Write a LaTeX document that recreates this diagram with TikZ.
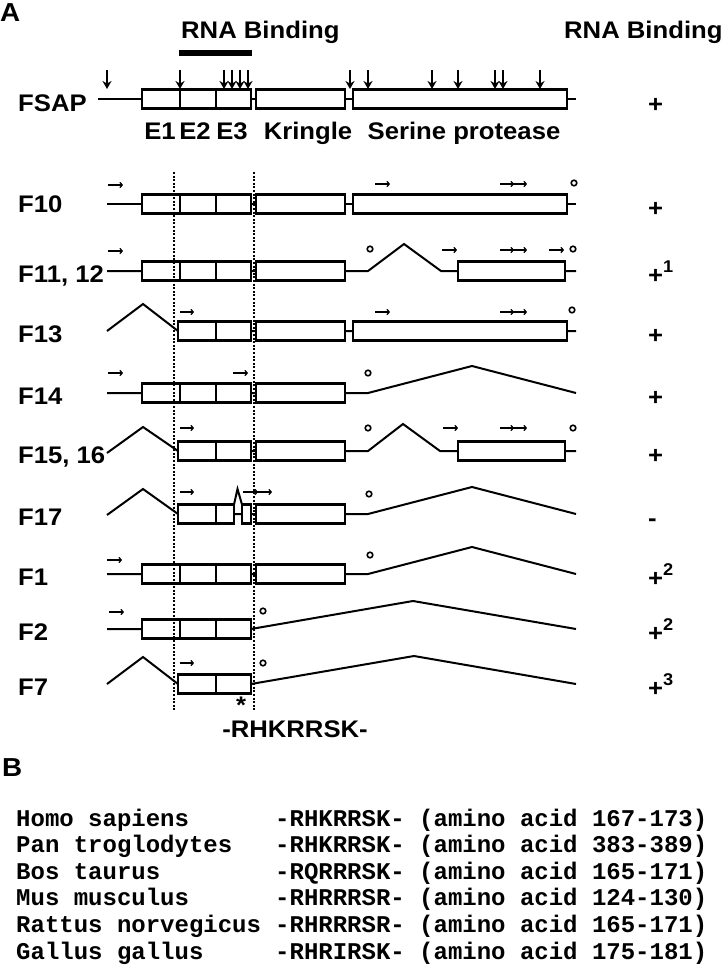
\documentclass[tikz,border=0pt]{standalone}
\usepackage{fontspec}
\newfontfamily\figsans{Liberation Sans}[FakeStretch=1.07]
\newfontfamily\figmono{Liberation Mono}
\usetikzlibrary{arrows.meta}
\tikzset{
  lbl/.style={font=\figsans\bfseries\fontsize{24}{28}\selectfont, inner sep=0pt},
  seq/.style={font=\figmono\bfseries\fontsize{24}{28}\selectfont, inner sep=0pt, anchor=base west},
  exon/.style={draw, line width=2.3pt, fill=white},
  intron/.style={line width=2pt, line join=miter},
  darr/.style={-{Stealth[length=8pt,width=9pt]}, line width=1.8pt},
  sarr/.style={-{To[length=3.5pt,width=6pt]}, line width=1.1pt},
  site/.style={line width=1.6pt},
  dotline/.style={line width=2.6pt, dash pattern=on 2pt off 1.6pt}
}
\begin{document}
\begin{tikzpicture}[x=1pt,y=-1pt,>=stealth]
\useasboundingbox (0,0) rectangle (723,966);
% panel A
\node[lbl, anchor=base west] (pA) at (0,22) {\fontsize{26}{26}\selectfont A};
\node[lbl, anchor=base west] (hdrL) at (181,39) {RNA Binding};
\node[lbl, anchor=base west] (hdrR) at (564,39) {RNA Binding};
\draw [line width=6.5pt] (179,53)--(252,53);
% FSAP
\draw [intron] (98,99)--(576,99);
\foreach \a/\b in {142/180,180/216,216/251,256/345,353/567}{\draw [exon] (\a,89.5) rectangle (\b,108.5);}
\foreach \x in {107,180,224,232,240,248,350,368,432,458,495,503,540}{\draw [darr] (\x,70)--(\x,89);}
\node[lbl, anchor=base] (dE1) at (160,139) {E1};
\node[lbl, anchor=base] (dE2) at (195,139) {E2};
\node[lbl, anchor=base] (dE3) at (232,139) {E3};
\node[lbl, anchor=base] (dKr) at (308,139) {Kringle};
\node[lbl, anchor=base] (dSP) at (464,139) {Serine protease};
% F10
\draw [intron] (107,204)--(576,204);
\foreach \a/\b in {142/180,180/216,216/251,256/345,353/567}{\draw [exon] (\a,194.5) rectangle (\b,213.5);}
\draw [sarr] (108,185)--(123,185);
\draw [sarr] (375,184)--(390,184);
\draw [sarr] (500,184)--(514,184);
\draw [sarr] (513,184)--(527,184);
\draw [site] (574,183) circle[radius=2.8pt];
% F11, 12
\draw [intron] (107,271)--(368,271)--(404,244)--(441,271)--(576,271);
\foreach \a/\b in {142/180,180/216,216/251,256/345,458/565}{\draw [exon] (\a,261.5) rectangle (\b,280.5);}
\draw [sarr] (108,251)--(123,251);
\draw [sarr] (442,250)--(457,250);
\draw [sarr] (500,250)--(514,250);
\draw [sarr] (513,250)--(527,250);
\draw [sarr] (549,250)--(564,250);
\draw [site] (370,249) circle[radius=2.8pt];
\draw [site] (573,249) circle[radius=2.8pt];
% F13
\draw [intron] (107,331)--(143,304)--(178,331)--(576,331);
\foreach \a/\b in {178/216,216/251,256/345,353/567}{\draw [exon] (\a,321.5) rectangle (\b,340.5);}
\draw [sarr] (180,312)--(194,312);
\draw [sarr] (375,312)--(390,312);
\draw [sarr] (500,312)--(514,312);
\draw [sarr] (513,312)--(527,312);
\draw [site] (572,310) circle[radius=2.8pt];
% F14
\draw [intron] (107,393)--(368,393)--(472,366)--(576,393);
\foreach \a/\b in {142/180,180/216,216/251,256/345}{\draw [exon] (\a,383.5) rectangle (\b,402.5);}
\draw [sarr] (108,373)--(123,373);
\draw [sarr] (233,373)--(248,373);
\draw [site] (368,373) circle[radius=2.8pt];
% F15, 16
\draw [intron] (107,453)--(143,427)--(178,451)--(368,451)--(403,424)--(440,451)--(576,451);
\foreach \a/\b in {178/216,216/251,256/345,458/565}{\draw [exon] (\a,441.5) rectangle (\b,460.5);}
\draw [sarr] (180,428)--(194,428);
\draw [sarr] (443,428)--(458,428);
\draw [sarr] (500,428)--(514,428);
\draw [sarr] (513,428)--(527,428);
\draw [site] (368,428) circle[radius=2.8pt];
\draw [site] (573,428) circle[radius=2.8pt];
% F17
\draw [intron] (107,515)--(143,489)--(178,514)--(368,514)--(472,487)--(576,514);
\foreach \a/\b in {178/216,216/234,242/251,256/345}{\draw [exon] (\a,504.5) rectangle (\b,523.5);}
\draw [intron] (234,504.5)--(237.5,489)--(242,504.5);
\draw [sarr] (180,492)--(194,492);
\draw [sarr] (243,492)--(258,492);
\draw [sarr] (257,492)--(272,492);
\draw [site] (369,494) circle[radius=2.8pt];
% F1
\draw [intron] (107,574)--(368,574)--(472,547)--(576,574);
\foreach \a/\b in {142/180,180/216,216/251,256/345}{\draw [exon] (\a,564.5) rectangle (\b,583.5);}
\draw [sarr] (107,560)--(122,560);
\draw [site] (370,555) circle[radius=2.8pt];
% F2
\draw [intron] (107,629)--(251,629)--(413,601)--(576,629);
\foreach \a/\b in {142/180,180/216,216/251}{\draw [exon] (\a,619.5) rectangle (\b,638.5);}
\draw [sarr] (109,612)--(124,612);
\draw [site] (263,611) circle[radius=2.8pt];
% F7
\draw [intron] (107,684)--(143,657)--(178,684)--(251,684)--(414,656)--(576,684);
\foreach \a/\b in {178/216,216/251}{\draw [exon] (\a,674.5) rectangle (\b,693.5);}
\draw [sarr] (180,663)--(194,663);
\draw [site] (263,663) circle[radius=2.8pt];
\node[lbl, anchor=base] (ast) at (241,713) {*};
% RNA binding region
\draw [dotline] (174,172)--(174,710);
\draw [dotline] (254,172)--(254,710);
\node[lbl, anchor=base] (motif) at (295,737) {-RHKRRSK-};
% row names
\foreach \n/\t/\y in {fsap/FSAP/111,f10/F10/212,f11/{F11, 12}/282,f13/F13/342,f14/F14/404,f15/{F15, 16}/463,f17/F17/525,f1/F1/585,f2/F2/640,f7/F7/695}{
  \node[lbl, anchor=base west] (l\n) at (18,\y) {\t};}
\foreach \n/\t/\y in {fsap/+/112,f10/+/216,f13/+/343,f14/+/405,f15/+/463,f17/-/526}{
  \node[lbl, anchor=base west] (r\n) at (648,\y) {\t};}
\node[lbl, anchor=base west] (rf11) at (648,283) {+\raisebox{11pt}{\fontsize{17}{17}\selectfont 1}};
\node[lbl, anchor=base west] (rf1) at (648,586) {+\raisebox{11pt}{\fontsize{17}{17}\selectfont 2}};
\node[lbl, anchor=base west] (rf2) at (648,641) {+\raisebox{11pt}{\fontsize{17}{17}\selectfont 2}};
\node[lbl, anchor=base west] (rf7) at (648,696) {+\raisebox{11pt}{\fontsize{17}{17}\selectfont 3}};
% panel B
\node[lbl, anchor=base west] (pB) at (2,776) {\fontsize{26}{26}\selectfont B};
\foreach \i/\s/\m/\r in {0/Homo sapiens/-RHKRRSK-/167-173,1/Pan troglodytes/-RHKRRSK-/383-389,2/Bos taurus/-RQRRRSK-/165-171,3/Mus musculus/-RHRRRSR-/124-130,4/Rattus norvegicus/-RHRRRSR-/165-171,5/Gallus gallus/-RHRIRSK-/175-181}{
  \node[seq] (sp\i) at (16,{826+26.6*\i}) {\s};
  \node[seq] (mo\i) at (275,{826+26.6*\i}) {\m};
  \node[seq] (aa\i) at (419,{826+26.6*\i}) {(amino acid \r)};}
\end{tikzpicture}
\end{document}
